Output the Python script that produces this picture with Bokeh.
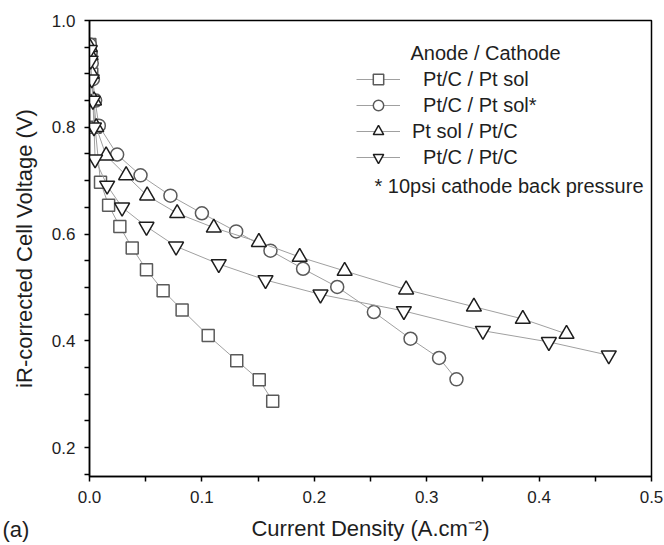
from bokeh.plotting import figure
from bokeh.models import Range1d, Legend, LegendItem, Label, FixedTicker, Title
from bokeh.embed import file_html
from bokeh.resources import INLINE

# ---- data ----
sq_x = [0.0003, 0.001, 0.002, 0.003, 0.005, 0.0098, 0.017, 0.027, 0.038, 0.0507, 0.0655, 0.0824, 0.1056, 0.131, 0.151, 0.163]
sq_y = [0.955, 0.93, 0.90, 0.85, 0.80, 0.697, 0.654, 0.614, 0.574, 0.533, 0.494, 0.458, 0.410, 0.363, 0.327, 0.287]

ci_x = [0.0003, 0.001, 0.002, 0.003, 0.005, 0.0083, 0.0246, 0.0454, 0.072, 0.100, 0.1305, 0.161, 0.190, 0.2204, 0.253, 0.2856, 0.311, 0.3265]
ci_y = [0.955, 0.94, 0.92, 0.89, 0.85, 0.803, 0.749, 0.710, 0.672, 0.639, 0.605, 0.569, 0.535, 0.501, 0.454, 0.404, 0.368, 0.328]

tu_x = [0.0003, 0.001, 0.002, 0.004, 0.006, 0.0148, 0.0326, 0.0513, 0.078, 0.1106, 0.1507, 0.187, 0.227, 0.2817, 0.342, 0.3855, 0.4244]
tu_y = [0.95, 0.935, 0.90, 0.85, 0.80, 0.747, 0.710, 0.672, 0.639, 0.612, 0.585, 0.557, 0.531, 0.496, 0.464, 0.441, 0.413]

td_x = [0.0003, 0.001, 0.002, 0.003, 0.004, 0.005, 0.0157, 0.029, 0.0507, 0.077, 0.115, 0.1566, 0.2055, 0.2797, 0.350, 0.4087, 0.462]
td_y = [0.945, 0.925, 0.89, 0.85, 0.80, 0.740, 0.691, 0.650, 0.614, 0.577, 0.544, 0.514, 0.487, 0.456, 0.419, 0.398, 0.373]

legend_title = "Anode / Cathode"
labels = ["\u00a0\u00a0Pt/C / Pt sol", "\u00a0\u00a0Pt/C / Pt sol*", "Pt sol / Pt/C", "\u00a0\u00a0Pt/C / Pt/C"]
footnote = "* 10psi cathode back pressure"
x_label = "Current Density (A.cm\u207b\u00b2)"
y_label = "iR-corrected Cell Voltage (V)"
panel_tag = "(a)"
x_ticks = [0.0, 0.1, 0.2, 0.3, 0.4, 0.5]
y_ticks = [0.2, 0.4, 0.6, 0.8, 1.0]

FONT = "Liberation Sans"
TXT = "#1e1e1e"

p = figure(width=664, height=545, output_backend="svg", toolbar_location=None,
           x_range=Range1d(0, 0.5), y_range=Range1d(0.146, 1.0),
           min_border_left=89, min_border_right=13, min_border_top=20, min_border_bottom=69)
p.grid.visible = False
p.outline_line_color = "black"
p.outline_line_width = 1.5
p.background_fill_color = "white"
p.border_fill_color = "white"

for ax in (p.xaxis[0], p.yaxis[0]):
    ax.axis_line_width = 1.5
    ax.major_tick_line_width = 1.5
    ax.minor_tick_line_width = 1.5
    ax.major_tick_in = 0
    ax.major_tick_out = 5
    ax.minor_tick_in = 0
    ax.minor_tick_out = 5
    ax.major_label_text_font = FONT
    ax.major_label_text_font_size = "17px"
    ax.major_label_text_color = TXT
    ax.axis_label_text_font = FONT
    ax.axis_label_text_font_size = "22px"
    ax.axis_label_text_font_style = "normal"
    ax.axis_label_text_color = TXT

p.xaxis.ticker = FixedTicker(ticks=x_ticks, minor_ticks=[0.05, 0.15, 0.25, 0.35, 0.45])
p.yaxis.ticker = FixedTicker(ticks=y_ticks, minor_ticks=[0.15, 0.25, 0.3, 0.35, 0.45, 0.5, 0.55, 0.65, 0.7, 0.75, 0.85, 0.9, 0.95])
p.xaxis.major_label_overrides = {t: f"{t:.1f}" for t in x_ticks}
p.yaxis.major_label_overrides = {t: f"{t:.1f}" for t in y_ticks}
p.xaxis.axis_label = x_label
p.yaxis.axis_label = y_label
p.xaxis.major_label_standoff = 9
p.yaxis.major_label_standoff = 9
p.xaxis.axis_label_standoff = 10
p.yaxis.axis_label_standoff = 12

series = [
    (sq_x, sq_y, "square", 12, "#5a5a5a"),
    (ci_x, ci_y, "circle", 13, "#5a5a5a"),
    (tu_x, tu_y, "triangle", 15, "#1e1e1e"),
    (td_x, td_y, "inverted_triangle", 15, "#1e1e1e"),
]
items = []
for (xs, ys, mk, sz, col), lab in zip(series, labels):
    r_line = p.line(xs, ys, line_color="#a0a0a0", line_width=1)
    r_pts = p.scatter(xs, ys, marker=mk, size=sz, line_color=col, line_width=1.5,
                      fill_color="white")
    items.append(LegendItem(label=lab, renderers=[r_line, r_pts]))

legend = Legend(items=items, location=(267, 306), border_line_color=None,
                background_fill_alpha=0, padding=0, margin=0, spacing=0,
                glyph_width=44, glyph_height=26, label_height=26, label_standoff=12,
                label_text_font=FONT, label_text_font_size="20px", label_text_color=TXT)
p.add_layout(legend, "center")

p.add_layout(Label(x=321, y=424, x_units="screen", y_units="screen", text=legend_title,
                   text_font=FONT, text_font_size="20px", text_color=TXT,
                   text_baseline="middle"))
p.add_layout(Label(x=554, y=291, x_units="screen", y_units="screen", text=footnote,
                   text_font=FONT, text_font_size="20px", text_color=TXT,
                   text_baseline="middle", text_align="right"))

tag = Title(text=panel_tag, align="left", vertical_align="top", offset=-87, standoff=-54,
            text_font=FONT, text_font_size="22px", text_font_style="normal", text_color=TXT)
p.add_layout(tag, "below")

open("out.html", "w").write(file_html(p, INLINE))
